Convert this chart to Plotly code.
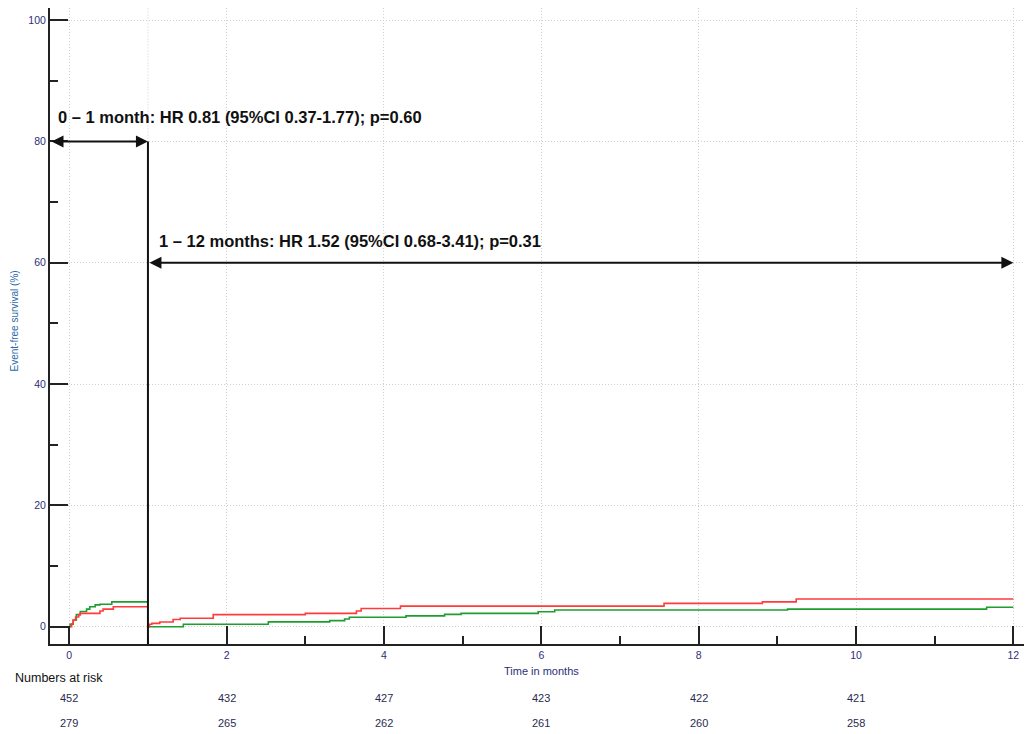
import plotly.graph_objects as go

# ---------------- data ----------------
green_t1 = [0, 0.01, 0.05, 0.09, 0.14, 0.22, 0.26, 0.33, 0.39, 0.54, 1.0]
green_v1 = [0, 0.4, 1.1, 2.0, 2.5, 2.9, 3.3, 3.6, 3.7, 4.1, 4.1]
red_t1 = [0, 0.03, 0.05, 0.08, 0.12, 0.14, 0.39, 0.43, 0.56, 1.0]
red_v1 = [0, 0.5, 1.1, 1.6, 2.0, 2.2, 2.6, 2.9, 3.3, 3.3]

green_t2 = [1.0, 1.45, 2.53, 3.31, 3.50, 3.56, 4.28, 4.77, 4.98, 5.96, 6.17, 9.13, 11.66, 12.0]
green_v2 = [0, 0.4, 0.8, 1.0, 1.27, 1.55, 1.78, 2.04, 2.2, 2.47, 2.75, 2.9, 3.2, 3.2]
red_t2 = [1.0, 1.02, 1.05, 1.15, 1.32, 1.41, 1.83, 3.0, 3.65, 3.71, 4.21, 7.56, 8.81, 9.24, 12.0]
red_v2 = [0, 0.4, 0.55, 0.77, 1.2, 1.4, 2.0, 2.2, 2.6, 3.0, 3.4, 3.85, 4.1, 4.57, 4.57]

risk_times = [0, 2, 4, 6, 8, 10]
risk_row1 = [452, 432, 427, 423, 422, 421]
risk_row2 = [279, 265, 262, 261, 260, 258]

x_ticks = [0, 2, 4, 6, 8, 10, 12]
y_ticks = [0, 20, 40, 60, 80, 100]

label1 = "0 \u2013 1 month: HR 0.81 (95%CI 0.37-1.77); p=0.60"
label2 = "1 \u2013 12 months: HR 1.52 (95%CI 0.68-3.41); p=0.31"
split_month = 1
end_month = 12
arrow1_y = 80
arrow2_y = 60

# ---------------- layout constants ----------------
OFF = 8                      # page body margin
W, H = 1032 - OFF, 734 - OFF
ML, MR, MT, MB = 42, 0, 0, 90
PH = H - MT - MB
PW = W - ML - MR
X_MIN, X_MAX = -0.245, 12.237
Y_MIN, Y_MAX = -2.85, 102.0

RED = "#ff3b3b"
GREEN = "#1e9e2e"
AXC = "#222222"
NAVY = "#2e2e78"
GRID = "#cfcfcf"
FONT = "Arial, Liberation Sans, sans-serif"


def py(pix):
    """page pixel y -> paper coordinate"""
    return (H - MB - (pix - OFF)) / PH


def px(pix):
    """page pixel x -> paper coordinate"""
    return (pix - OFF - ML) / PW


fig = go.Figure()
for t, v, c in [(green_t1, green_v1, GREEN), (red_t1, red_v1, RED),
                (green_t2, green_v2, GREEN), (red_t2, red_v2, RED)]:
    fig.add_trace(go.Scatter(x=t, y=v, mode="lines", line=dict(color=c, width=1.6, shape="hv"),
                             showlegend=False, hoverinfo="skip"))

shapes = [
    dict(type="line", xref="x", yref="y", x0=split_month, x1=split_month, y0=Y_MIN, y1=arrow1_y,
         line=dict(color="#111111", width=2)),
    dict(type="line", xref="x", yref="y", x0=split_month, x1=split_month, y0=arrow1_y, y1=Y_MAX,
         line=dict(color=GRID, width=1, dash="1px,2px"), layer="below"),
]

annotations = [
    dict(x=split_month, y=arrow1_y, ax=X_MIN, ay=arrow1_y, xref="x", yref="y", axref="x", ayref="y",
         showarrow=True, arrowhead=2, arrowside="end+start", arrowsize=1.2, arrowwidth=2,
         arrowcolor="#111111", text="", standoff=0, startstandoff=0),
    dict(x=end_month, y=arrow2_y, ax=split_month, ay=arrow2_y, xref="x", yref="y", axref="x", ayref="y",
         showarrow=True, arrowhead=2, arrowside="end+start", arrowsize=1.2, arrowwidth=2,
         arrowcolor="#111111", text="", standoff=0, startstandoff=0),
    dict(x=-0.165, y=84.0, xref="x", yref="y", xanchor="left", yanchor="middle", showarrow=False,
         text="<b>" + label1 + "</b>", font=dict(family=FONT, size=16.5, color="#111111")),
    dict(x=1.12, y=63.6, xref="x", yref="y", xanchor="left", yanchor="middle", showarrow=False,
         text="<b>" + label2 + "</b>", font=dict(family=FONT, size=16.5, color="#111111")),
    dict(x=6, y=py(671), xref="x", yref="paper", xanchor="center", yanchor="middle", showarrow=False,
         text="Time in months", font=dict(family=FONT, size=11, color=NAVY)),
    dict(x=px(8), y=py(321), xref="paper", yref="paper", xanchor="left",
         yanchor="middle", showarrow=False, textangle=-90, borderpad=0,
         text="Event-free survival (%)", font=dict(family=FONT, size=10, color="#2a6aa8")),
    dict(x=px(13), y=py(678), xref="paper", yref="paper", xanchor="left",
         yanchor="middle", showarrow=False, text="Numbers at risk",
         font=dict(family=FONT, size=12.5, color="#111111")),
]
for t, a, b in zip(risk_times, risk_row1, risk_row2):
    annotations.append(dict(x=t, y=py(698), xref="x", yref="paper", showarrow=False, text=str(a),
                            xanchor="center", yanchor="middle",
                            font=dict(family=FONT, size=11, color="#2b2b4f")))
    annotations.append(dict(x=t, y=py(723), xref="x", yref="paper", showarrow=False, text=str(b),
                            xanchor="center", yanchor="middle",
                            font=dict(family=FONT, size=11, color="#2b2b4f")))

fig.update_layout(
    width=W, height=H,
    margin=dict(l=ML, r=MR, t=MT, b=MB, pad=0),
    paper_bgcolor="white", plot_bgcolor="white",
    font=dict(family=FONT),
    shapes=shapes, annotations=annotations,
    xaxis=dict(range=[X_MIN, X_MAX], tickvals=x_ticks, ticks="inside", ticklen=18, tickwidth=2,
               tickcolor=AXC, showline=True, linewidth=2, linecolor=AXC, zeroline=False,
               showgrid=True, gridcolor=GRID, griddash="1px,2px", gridwidth=1,
               tickfont=dict(family=FONT, size=10.5, color=NAVY),
               minor=dict(dtick=1, ticks="inside", ticklen=8, tickwidth=2, tickcolor=AXC, showgrid=False)),
    yaxis=dict(range=[Y_MIN, Y_MAX], tickvals=y_ticks, ticks="inside", ticklen=18, tickwidth=2,
               tickcolor=AXC, showline=True, linewidth=2, linecolor=AXC, zeroline=False,
               showgrid=True, gridcolor=GRID, griddash="1px,2px", gridwidth=1,
               tickfont=dict(family=FONT, size=10.5, color=NAVY),
               minor=dict(dtick=10, ticks="inside", ticklen=8, tickwidth=2, tickcolor=AXC, showgrid=False)),
)

fig.write_html("out.html")
